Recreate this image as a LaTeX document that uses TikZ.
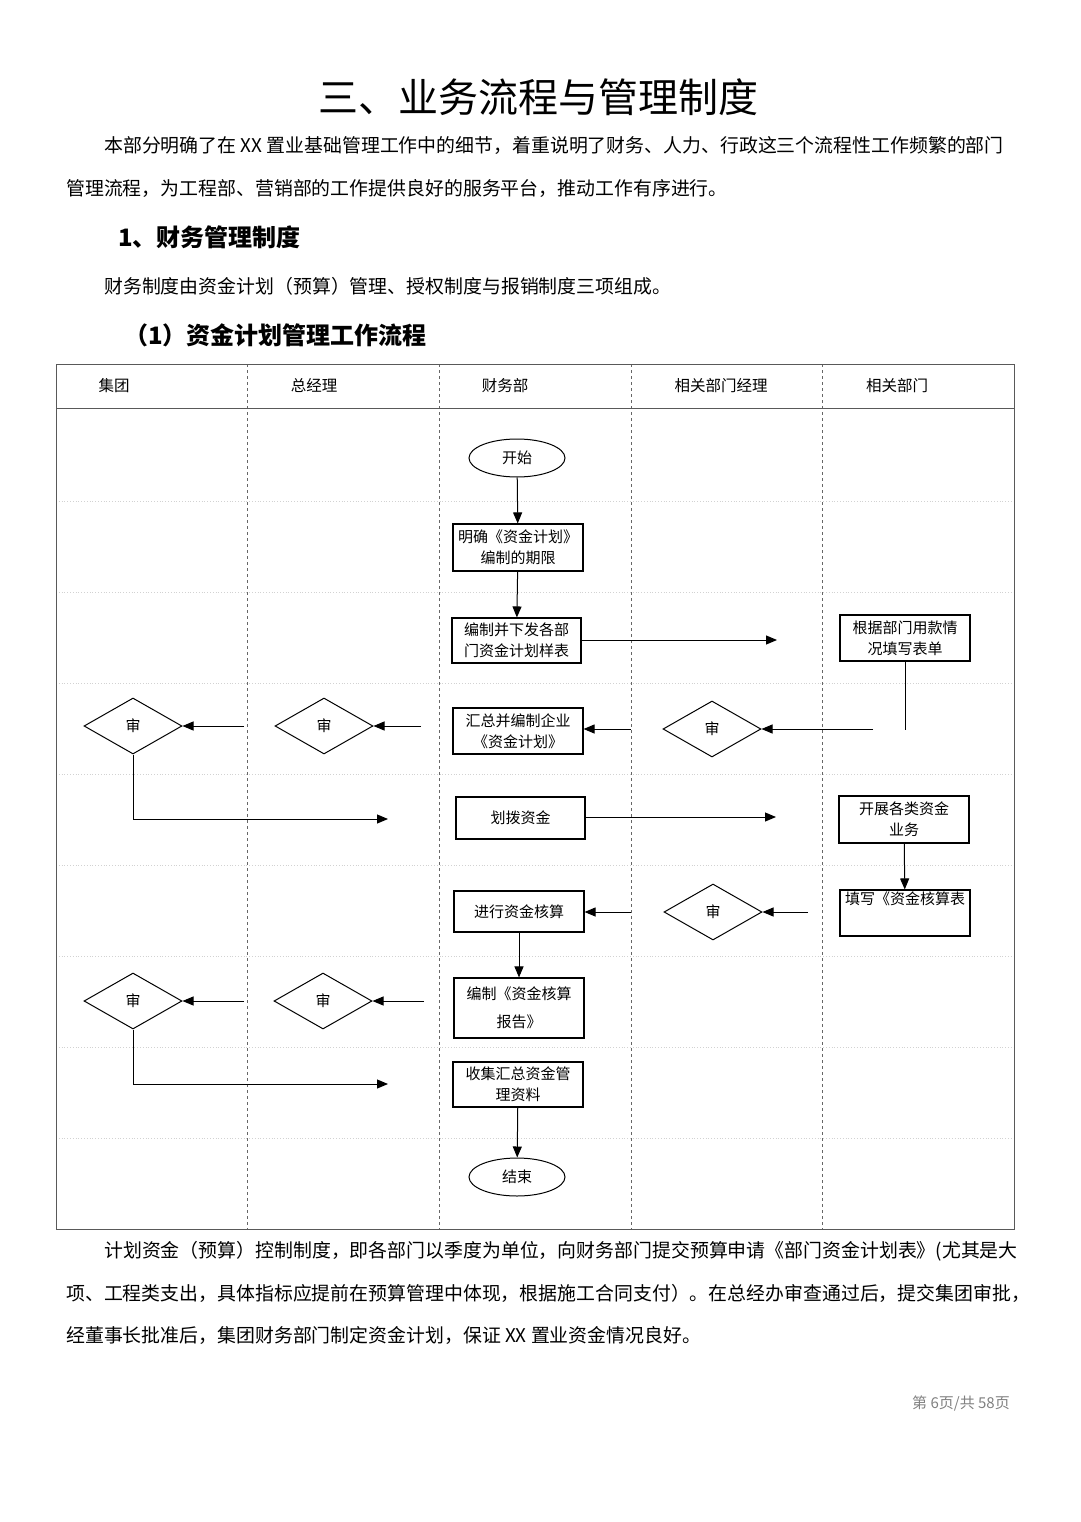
\documentclass[tikz,border=0pt]{standalone}
\usepackage{fontspec}
\setmainfont{Noto Sans CJK SC}
\usetikzlibrary{shapes.geometric,arrows.meta}
\tikzset{
 bx/.style={draw,line width=1.1pt,inner sep=0pt,font=\fontsize{15}{21}\selectfont,align=center},
 dm/.style={draw,diamond,aspect=1.75,minimum width=98pt,minimum height=56pt,inner sep=0pt,line width=1pt,font=\fontsize{15}{18}\selectfont},
 el/.style={draw,ellipse,minimum width=96pt,minimum height=38pt,line width=1pt,font=\fontsize{15}{18}\selectfont},
 ar/.style={-{Triangle[length=11pt,width=9pt]},line width=1pt},
 ln/.style={line width=1pt},
 hd/.style={font=\fontsize{15.5}{18}\selectfont},
 tx/.style={anchor=west,inner sep=0pt,font=\fontsize{18.9}{22}\selectfont}
}
\begin{document}
\begin{tikzpicture}[x=1pt,y=-1pt]
\useasboundingbox (0,0) rectangle (1080,1522);
\node[font=\fontsize{40}{46}\selectfont] (title) at (538,97) {三、业务流程与管理制度};
\node[tx] (p1) at (104,146) {本部分明确了在 XX 置业基础管理工作中的细节，着重说明了财务、人力、行政这三个流程性工作频繁的部门};
\node[tx] (p2) at (66,188) {管理流程，为工程部、营销部的工作提供良好的服务平台，推动工作有序进行。};
\node[tx,font=\fontsize{24}{26}\selectfont\bfseries] (h1) at (118,237) {1、财务管理制度};
\node[tx] (p3) at (104,286) {财务制度由资金计划（预算）管理、授权制度与报销制度三项组成。};
\node[tx,font=\fontsize{24}{26}\selectfont\bfseries] (h2) at (124,335) {（1）资金计划管理工作流程};
% frame
\foreach \y in {501,592,683,774,865,956,1047,1138} \draw[gray!35,dotted,line width=0.8pt] (56,\y) -- (1014,\y);
\foreach \x in {247,439,631,822} \draw[dashed,line width=0.7pt,gray!80!black] (\x,364) -- (\x,1229);
\draw[line width=0.8pt,gray!70!black] (56,364) rectangle (1014,1229);
\draw[line width=0.8pt,gray!70!black] (56,408) -- (1014,408);
\node[hd] (c1) at (114,386) {集团};
\node[hd] (c2) at (314,386) {总经理};
\node[hd] (c3) at (505,386) {财务部};
\node[hd] (c4) at (721,386) {相关部门经理};
\node[hd] (c5) at (897,386) {相关部门};
% nodes
\node[el] (st) at (517,458) {开始};
\node[bx,minimum width=130pt,minimum height=47pt] (b1) at (518,547.5) {明确《资金计划》\\编制的期限};
\node[bx,minimum width=129pt,minimum height=45pt] (b2) at (516.5,640.5) {编制并下发各部\\门资金计划样表};
\node[bx,minimum width=130pt,minimum height=46pt] (b3) at (905,638) {根据部门用款情\\况填写表单};
\node[bx,minimum width=130pt,minimum height=46pt] (b4) at (518,731) {汇总并编制企业\\《资金计划》};
\node[dm] (d1) at (133,726) {审};
\node[dm] (d2) at (324,726) {审};
\node[dm] (d3) at (712,729) {审};
\node[bx,minimum width=129pt,minimum height=42pt] (b5) at (520.5,818) {划拨资金};
\node[bx,minimum width=130pt,minimum height=47pt] (b6) at (904,819.5) {开展各类资金\\业务};
\node[bx,minimum width=130pt,minimum height=41pt] (b7) at (519,911.5) {进行资金核算};
\node[dm] (d4) at (713,912) {审};
\node[bx,minimum width=130pt,minimum height=46pt] (b8) at (905,913) {};
\node[font=\fontsize{15}{18}\selectfont,anchor=north,inner sep=0pt] (b8t) at (905,892) {填写《资金核算表};
\node[dm] (d5) at (133,1001) {审};
\node[dm] (d6) at (323,1001) {审};
\node[bx,minimum width=130pt,minimum height=60pt,font=\fontsize{15}{28}\selectfont] (b9) at (519,1008) {编制《资金核算\\报告》};
\node[bx,minimum width=130pt,minimum height=45pt] (b10) at (518,1084.5) {收集汇总资金管\\理资料};
\node[el] (en) at (517,1177) {结束};
% coordinates
\coordinate (e1) at (777,640);
\coordinate (e2) at (776,817);
\coordinate (g1) at (388,819);
\coordinate (g2) at (388,1084);
\coordinate (s1) at (873,729);
\coordinate (s2) at (631,729);
\coordinate (s3) at (421,726);
\coordinate (s4) at (244,726);
\coordinate (s5) at (808,912);
\coordinate (s6) at (631,912);
\coordinate (s7) at (424,1001);
\coordinate (s8) at (244,1001);
% connectors
\draw[ar] (st) -- (b1);
\draw[ar] (b1) -- (b2);
\draw[ar] (b2.east |- e1) -- (e1);
\draw[ln] (b3.south) -- (905,730);
\draw[ar] (s1) -- (d3.east);
\draw[ar] (s2) -- (b4.east |- s2);
\draw[ar] (s3) -- (d2.east);
\draw[ar] (s4) -- (d1.east);
\draw[ar] (d1.south) |- (g1);
\draw[ar] (b5.east |- e2) -- (e2);
\draw[ar] (b6) -- (b8);
\draw[ar] (s5) -- (d4.east);
\draw[ar] (s6) -- (b7.east |- s6);
\draw[ar] (b7) -- (b9);
\draw[ar] (s7) -- (d6.east);
\draw[ar] (s8) -- (d5.east);
\draw[ar] (d5.south) |- (g2);
\draw[ar] (b10) -- (en);
% bottom text
\node[tx] (p4) at (104,1251) {计划资金（预算）控制制度，即各部门以季度为单位，向财务部门提交预算申请《部门资金计划表》(尤其是大};
\node[tx] (p5) at (66,1293) {项、工程类支出，具体指标应提前在预算管理中体现，根据施工合同支付）。在总经办审查通过后，提交集团审批，};
\node[tx] (p6) at (66,1335) {经董事长批准后，集团财务部门制定资金计划，保证 XX 置业资金情况良好。};
\node[anchor=east,inner sep=0pt,text=gray,font=\fontsize{15}{18}\selectfont] (pg) at (1010,1403) {第 6页/共 58页};
\end{tikzpicture}
\end{document}
